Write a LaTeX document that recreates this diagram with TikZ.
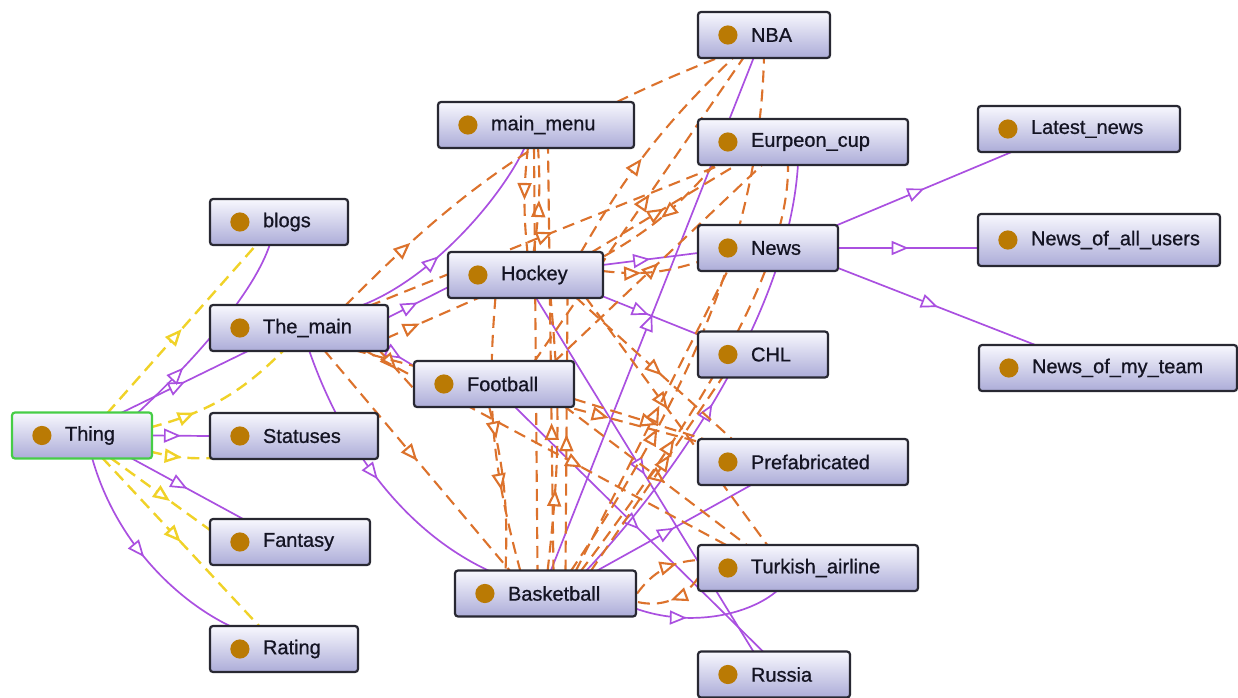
\documentclass[tikz,border=0pt]{standalone}
\usepackage{fontspec}
\setmainfont{Liberation Sans}[FakeBold=0.8]
\usetikzlibrary{arrows.meta,decorations.markings}
\definecolor{isac}{RGB}{170,80,224}
\definecolor{relc}{RGB}{220,114,44}
\definecolor{yelc}{RGB}{240,210,40}
\definecolor{dotc}{RGB}{186,122,4}
\definecolor{lav}{RGB}{172,172,216}
\definecolor{lavtop}{RGB}{248,248,254}
\definecolor{boxline}{RGB}{40,40,50}
\definecolor{rootc}{RGB}{70,205,70}
\definecolor{txtc}{RGB}{20,20,35}
\pgfdeclarelayer{bg}
\pgfsetlayers{bg,main}
\tikzset{
  midtri/.style={postaction={decorate,decoration={markings,mark=at position #1 with {\arrow{Triangle[length=8.5pt,width=7pt,fill=white]}}}}},
  isa/.style={color=isac,line width=0.85pt,midtri=#1}, isa/.default=0.5,
  orel/.style={color=relc,line width=1.05pt,dash pattern=on 6pt off 3.5pt,midtri=#1}, orel/.default=0.5,
  ydis/.style={color=yelc,line width=1.2pt,dash pattern=on 6pt off 3.5pt,midtri=#1}, ydis/.default=0.5,
  cls/.style={draw=boxline,line width=1.1pt,rounded corners=1.5pt,top color=lavtop,bottom color=lav,minimum height=23pt,inner xsep=10pt,inner ysep=0pt,align=left,font=\fontsize{10}{12}\selectfont,text=txtc},
  root/.style={cls,draw=rootc},
}
\begin{document}
\begin{tikzpicture}[x=0.5pt,y=-0.5pt]
\useasboundingbox (0,0) rectangle (1238,697);
% nodes
\node[cls,text width=46pt] (nba) at (764,35) {\mbox{\hspace*{16.5pt}NBA}};
\node[cls,text width=78pt] (mainmenu) at (536,125) {\mbox{\hspace*{16.5pt}main\_menu}};
\node[cls,text width=85pt] (eurpeon) at (803,142) {\mbox{\hspace*{16.5pt}Eurpeon\_cup}};
\node[cls,text width=81pt] (latest) at (1079,129) {\mbox{\hspace*{16.5pt}Latest\_news}};
\node[cls,text width=49pt] (blogs) at (279,222) {\mbox{\hspace*{16.5pt}blogs}};
\node[cls,text width=50pt] (news) at (768,248) {\mbox{\hspace*{16.5pt}News}};
\node[cls,text width=101pt,minimum height=26pt] (allusers) at (1099,240) {\mbox{\hspace*{16.5pt}News\_of\_all\_users}};
\node[cls,text width=57.5pt] (hockey) at (525.5,275) {\mbox{\hspace*{16.5pt}Hockey}};
\node[cls,text width=69pt] (themain) at (299,328) {\mbox{\hspace*{16.5pt}The\_main}};
\node[cls,text width=45pt] (chl) at (763,354.5) {\mbox{\hspace*{16.5pt}CHL}};
\node[cls,text width=109pt] (myteam) at (1108,368) {\mbox{\hspace*{16.5pt}News\_of\_my\_team}};
\node[cls,text width=60pt] (football) at (494,384) {\mbox{\hspace*{16.5pt}Football}};
\node[root,text width=50pt] (thing) at (82,435.5) {\mbox{\hspace*{16.5pt}Thing}};
\node[cls,text width=64pt] (statuses) at (294,436) {\mbox{\hspace*{16.5pt}Statuses}};
\node[cls,text width=85pt] (prefab) at (803,462) {\mbox{\hspace*{16.5pt}Prefabricated}};
\node[cls,text width=60pt] (fantasy) at (290,542) {\mbox{\hspace*{16.5pt}Fantasy}};
\node[cls,text width=90pt] (turkish) at (808,568) {\mbox{\hspace*{16.5pt}Turkish\_airline}};
\node[cls,text width=70.5pt] (basketball) at (545.5,593.5) {\mbox{\hspace*{16.5pt}Basketball}};
\node[cls,text width=54pt] (rating) at (284,649) {\mbox{\hspace*{16.5pt}Rating}};
\node[cls,text width=56pt] (russia) at (774,674.5) {\mbox{\hspace*{16.5pt}Russia}};
\foreach \n in {nba,mainmenu,eurpeon,latest,blogs,news,allusers,hockey,themain,chl,myteam,football,thing,statuses,prefab,fantasy,turkish,basketball,rating,russia}
  \fill[dotc] ([xshift=15.5pt]\n.west) circle (4.8pt);
\begin{pgfonlayer}{bg}
% subclass links
\draw[isa] ([shift={(38,-22)}]thing.center) -- ([shift={(-49,22)}]themain.center);
\draw[isa=0.3] ([shift={(55,-22)}]thing.center) .. controls (200,355) and (255,290) .. ([shift={(-9,22)}]blogs.center);
\draw[isa] (thing.east) -- (statuses.west);
\draw[isa] ([shift={(48,22)}]thing.center) -- ([shift={(-45,-22)}]fantasy.center);
\draw[isa] ([shift={(10,22)}]thing.center) .. controls (115,540) and (175,600) .. ([shift={(-52,-22)}]rating.center);
\draw[isa] ([shift={(88,-10)}]themain.center) -- ([shift={(-77,12)}]hockey.center);
\draw[isa=0.4] ([shift={(61,-22)}]themain.center) .. controls (430,280) and (500,200) .. ([shift={(-11,22)}]mainmenu.center);
\draw[isa] ([shift={(85,20)}]themain.center) -- ([shift={(-75,-15)}]football.center);
\draw[isa] ([shift={(10,22)}]themain.center) .. controls (340,440) and (400,530) .. ([shift={(-55,-22)}]basketball.center);
\draw[isa] ([shift={(77,-10)}]hockey.center) -- ([shift={(-70,5)}]news.center);
\draw[isa] ([shift={(74,20)}]hockey.center) -- ([shift={(-65,-20)}]chl.center);
\draw[isa] ([shift={(10,22)}]hockey.center) -- ([shift={(-20,-22)}]russia.center);
\draw[isa] ([shift={(20,22)}]football.center) -- ([shift={(-10,-22)}]russia.center);
\draw[isa] ([shift={(5,-22)}]basketball.center) -- ([shift={(-10,22)}]nba.center);
\draw[isa=0.45] ([shift={(40,-22)}]basketball.center) .. controls (690,460) and (790,300) .. ([shift={(-5,22)}]eurpeon.center);
\draw[isa] ([shift={(50,-22)}]basketball.center) -- ([shift={(-50,22)}]prefab.center);
\draw[isa=0.35] ([shift={(90,15)}]basketball.center) .. controls (690,628) and (750,615) .. ([shift={(-30,22)}]turkish.center);
\draw[isa] ([shift={(67,-22)}]news.center) -- ([shift={(-65,22)}]latest.center);
\draw[isa] (news.east) -- ([shift={(-121,8)}]allusers.center);
\draw[isa] ([shift={(70,20)}]news.center) -- ([shift={(-70,-22)}]myteam.center);
% object property links
\draw[orel=0.2] ([shift={(46,-22)}]themain.center) to[bend left=12] ([shift={(-44,22)}]nba.center);
\draw[orel=0.52] ([shift={(70,-22)}]themain.center) -- ([shift={(-80,22)}]eurpeon.center);
\draw[orel=0.35] ([shift={(88,10)}]themain.center) -- ([shift={(-45,22)}]hockey.center);
\draw[orel] ([shift={(80,22)}]themain.center) -- ([shift={(-80,5)}]football.center);
\draw[orel] ([shift={(25,22)}]themain.center) -- ([shift={(-35,-22)}]basketball.center);
\draw[orel=0.7] ([shift={(55,22)}]themain.center) -- ([shift={(-85,-15)}]prefab.center);
\draw[orel=0.6] ([shift={(65,22)}]themain.center) -- ([shift={(-80,-22)}]turkish.center);
\draw[orel] ([shift={(-8,22)}]mainmenu.center) to[bend right=6] ([shift={(2,-22)}]hockey.center);
\draw[orel] ([shift={(8,-22)}]hockey.center) to[bend right=6] ([shift={(2,22)}]mainmenu.center);
\draw[orel=0.55] ([shift={(-2,22)}]mainmenu.center) -- ([shift={(-8,-22)}]basketball.center);
\draw[orel=0.35] ([shift={(8,-22)}]basketball.center) -- ([shift={(12,22)}]mainmenu.center);
\draw[orel=0.45] ([shift={(55,-22)}]hockey.center) to[bend left=8] ([shift={(-30,22)}]nba.center);
\draw[orel] ([shift={(65,-22)}]hockey.center) -- ([shift={(-65,22)}]eurpeon.center);
\draw[orel] ([shift={(-88,22)}]eurpeon.center) to[bend left=10] ([shift={(72,-15)}]hockey.center);
\draw[orel=0.55] ([shift={(40,-22)}]football.center) -- ([shift={(-20,22)}]nba.center);
\draw[orel] ([shift={(60,-22)}]football.center) -- ([shift={(-40,22)}]eurpeon.center);
\draw[orel=0.7] ([shift={(-30,22)}]hockey.center) to[bend right=10] ([shift={(-25,-22)}]basketball.center);
\draw[orel=0.3] ([shift={(2,-22)}]basketball.center) to[bend right=6] ([shift={(25,22)}]hockey.center);
\draw[orel] ([shift={(20,-22)}]basketball.center) -- ([shift={(42,22)}]hockey.center);
\draw[orel=0.2] ([shift={(-5,22)}]football.center) to[bend left=8] ([shift={(-40,-22)}]basketball.center);
\draw[orel=0.55] ([shift={(50,22)}]hockey.center) -- ([shift={(-70,-22)}]prefab.center);
\draw[orel=0.45] ([shift={(60,22)}]hockey.center) -- ([shift={(-40,-22)}]turkish.center);
\draw[orel=0.6] ([shift={(80,15)}]football.center) -- ([shift={(-90,-20)}]prefab.center);
\draw[orel=0.55] ([shift={(70,22)}]football.center) -- ([shift={(-60,-22)}]turkish.center);
\draw[orel=0.3] ([shift={(25,-22)}]basketball.center) .. controls (700,380) and (760,220) .. ([shift={(0,22)}]nba.center);
\draw[orel=0.35] ([shift={(35,-22)}]basketball.center) .. controls (710,400) and (790,260) .. ([shift={(-15,22)}]eurpeon.center);
\draw[orel=0.6] ([shift={(45,-22)}]basketball.center) -- ([shift={(-40,22)}]chl.center);
\draw[orel=0.55] ([shift={(30,-22)}]basketball.center) -- ([shift={(-40,22)}]news.center);
\draw[orel=0.7] (basketball.east) to[bend left=25] ([shift={(-110,-8)}]turkish.center);
\draw[orel] ([shift={(-110,10)}]turkish.center) to[bend left=35] ([shift={(90,8)}]basketball.center);
\draw[orel=0.4] ([shift={(77,-4)}]hockey.center) to[bend right=12] ([shift={(-70,14)}]news.center);
% disjointness links
\draw[ydis] ([shift={(25,-22)}]thing.center) -- ([shift={(-22,22)}]blogs.center);
\draw[ydis=0.3] ([shift={(68,-8)}]thing.center) to[bend right=15] ([shift={(-15,22)}]themain.center);
\draw[ydis] ([shift={(68,16)}]thing.center) to[bend right=8] ([shift={(-80,22)}]statuses.center);
\draw[ydis=0.6] ([shift={(28,22)}]thing.center) -- ([shift={(-80,-12)}]fantasy.center);
\draw[ydis] ([shift={(20,22)}]thing.center) -- ([shift={(-24,-22)}]rating.center);
\end{pgfonlayer}
\end{tikzpicture}
\end{document}
